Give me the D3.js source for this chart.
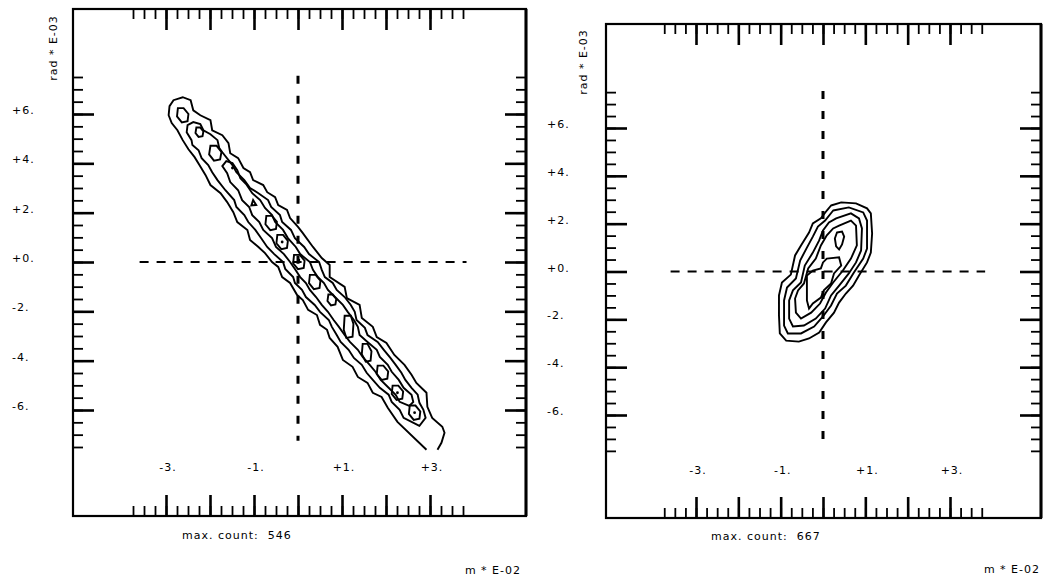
<!DOCTYPE html>
<html>
<head>
<meta charset="utf-8">
<script src="https://cdn.jsdelivr.net/npm/d3@7"></script>
<style>
  body { margin: 0; background: #fff; }
  text { font-family: "DejaVu Sans", sans-serif; font-size: 11px; fill: #000; letter-spacing: 1px; white-space: pre; }
</style>
</head>
<body>
<svg id="chart" width="1047" height="584"></svg>
<script>
// tick values and labels (m * E-02 on x, rad * E-03 on y)
const xMajor = [-3, -2, -1, 0, 1, 2, 3];
const xLabelValues = [-3, -1, 1, 3];
const xLabelText = ["-3.", "-1.", "+1.", "+3."];
const yMajor = [6, 4, 2, 0, -2, -4, -6];
const yLabelText = ["+6.", "+4.", "+2.", "+0.", "-2.", "-4.", "-6."];
const xMinorStep = 0.25, xMinorLimit = 3.75;
const yMinorStep = 0.5, yMinorLimit = 7.5;

// zero cross lines (extent in data units)
const crossX = [-3.6, 3.83];
const crossY = [7.55, -7.25];

const maxCounts = [546, 667];

// ---- left histogram: contour lines, [x, y] in axis units ----
// outermost level, open at the lower edge of the histogram
const leftLevel1 = [
  [2.92,-7.61],[2.26,-6.48],[2.04,-5.91],[1.90,-5.47],[1.70,-5.30],[1.58,-4.90],[1.36,-4.66],[1.24,-4.25],
  [1.02,-3.97],[0.90,-3.44],[0.72,-3.08],[0.66,-2.75],[0.50,-2.55],[0.43,-2.15],[0.23,-1.94],[0.11,-1.54],
  [-0.02,-1.34],[-0.18,-0.85],[-0.36,-0.61],[-0.45,-0.20],[-0.59,0.00],[-0.75,0.36],[-0.90,0.61],[-1.09,0.89],
  [-1.15,1.30],[-1.38,1.62],[-1.47,2.02],[-1.61,2.43],[-1.76,2.79],[-1.99,3.12],[-2.10,3.52],[-2.24,3.93],
  [-2.35,4.25],[-2.49,4.57],[-2.62,4.94],[-2.74,5.34],[-2.87,5.63],[-2.94,5.95],[-2.92,6.32],[-2.83,6.56],
  [-2.62,6.68],[-2.44,6.56],[-2.38,6.15],[-2.22,5.95],[-1.99,5.75],[-1.95,5.34],[-1.72,5.14],[-1.58,4.82],
  [-1.54,4.41],[-1.36,4.21],[-1.24,3.81],[-1.09,3.64],[-1.02,3.32],[-0.79,3.12],[-0.70,2.83],[-0.52,2.63],
  [-0.45,2.31],[-0.25,2.11],[-0.18,1.78],[0.00,1.42],[0.11,1.17],[0.34,0.61],[0.54,0.16],[0.72,-0.12],
  [0.72,-0.61],[1.06,-1.01],[1.11,-1.46],[1.40,-1.74],[1.45,-2.27],[1.70,-2.63],[1.79,-3.04],[2.01,-3.28],
  [2.19,-3.77],[2.42,-4.17],[2.58,-4.57],[2.69,-4.90],[2.92,-5.30],[2.94,-5.87],[3.05,-6.32],[3.28,-6.68],
  [3.33,-6.92],[3.26,-7.33],[3.17,-7.61]
];
const leftLevel2 = [
  [2.76,-6.64],[2.40,-6.32],[2.31,-5.99],[2.13,-5.67],[2.06,-5.38],[1.86,-5.10],[1.70,-4.78],[1.56,-4.49],
  [1.45,-4.17],[1.27,-3.89],[1.15,-3.56],[0.97,-3.24],[0.88,-2.96],[0.77,-2.63],[0.70,-2.35],[0.50,-2.02],
  [0.38,-1.74],[0.18,-1.42],[0.09,-1.13],[-0.07,-0.85],[-0.11,-0.61],[-0.29,-0.28],[-0.34,0.00],[-0.54,0.32],
  [-0.70,0.61],[-0.84,0.97],[-0.97,1.30],[-1.13,1.62],[-1.22,1.90],[-1.40,2.23],[-1.45,2.51],[-1.65,2.91],
  [-1.83,3.32],[-1.95,3.64],[-2.04,3.93],[-2.19,4.21],[-2.26,4.53],[-2.40,4.74],[-2.42,4.94],[-2.53,5.26],
  [-2.51,5.55],[-2.38,5.67],[-2.22,5.59],[-2.15,5.34],[-1.99,5.18],[-1.83,4.94],[-1.79,4.62],[-1.72,4.45],
  [-1.49,3.93],[-1.40,3.64],[-1.22,3.32],[-1.09,3.00],[-0.90,2.79],[-0.68,2.51],[-0.61,2.23],[-0.41,1.90],
  [-0.36,1.62],[-0.16,1.30],[-0.07,0.97],[0.14,0.61],[0.25,0.32],[0.48,0.00],[0.54,-0.32],[0.61,-0.61],
  [0.79,-0.85],[0.88,-1.13],[1.06,-1.42],[1.20,-1.74],[1.29,-2.02],[1.33,-2.35],[1.52,-2.67],[1.58,-2.96],
  [1.81,-3.24],[1.95,-3.56],[2.10,-3.89],[2.22,-4.17],[2.35,-4.49],[2.44,-4.78],[2.58,-5.10],[2.72,-5.38],
  [2.76,-5.71],[2.85,-5.99],[2.90,-6.32]
];
const leftLevel3 = [
  [2.53,-5.83],[2.31,-5.67],[2.22,-5.38],[2.06,-5.10],[1.88,-4.78],[1.76,-4.45],[1.63,-4.17],[1.47,-3.85],
  [1.36,-3.56],[1.18,-3.24],[1.06,-2.96],[0.93,-2.63],[0.81,-2.35],[0.68,-2.02],[0.54,-1.74],[0.41,-1.42],
  [0.27,-1.13],[0.18,-0.85],[0.05,-0.61],[-0.07,-0.28],[-0.18,0.00],[-0.32,0.32],[-0.50,0.61],[-0.59,0.97],
  [-0.79,1.30],[-0.88,1.62],[-1.04,1.90],[-1.11,2.23],[-1.27,2.51],[-1.36,2.91],[-1.54,3.24],[-1.61,3.60],
  [-1.72,3.89],[-1.63,4.09],[-1.49,4.01],[-1.38,3.72],[-1.31,3.40],[-1.18,3.16],[-1.04,2.79],[-0.86,2.51],
  [-0.75,2.19],[-0.59,1.90],[-0.52,1.62],[-0.34,1.30],[-0.23,0.97],[-0.05,0.61],[0.05,0.32],[0.27,0.00],
  [0.34,-0.32],[0.45,-0.61],[0.59,-0.85],[0.68,-1.13],[0.84,-1.42],[1.02,-1.74],[1.13,-2.02],[1.27,-2.35],
  [1.36,-2.63],[1.40,-2.96],[1.58,-3.24],[1.79,-3.56],[1.86,-3.85],[2.04,-4.17],[2.13,-4.45],[2.29,-4.78],
  [2.40,-5.10],[2.58,-5.38],[2.62,-5.67]
];
// small closed peaks along the ridge
const leftPeaks = [
  [[-2.73,6.24],[-2.60,6.24],[-2.49,6.00],[-2.51,5.71],[-2.64,5.66],[-2.75,5.90]],
  [[-2.31,5.45],[-2.22,5.45],[-2.15,5.29],[-2.17,5.10],[-2.26,5.07],[-2.33,5.23]],
  [[-1.99,4.71],[-1.85,4.71],[-1.74,4.46],[-1.77,4.16],[-1.91,4.11],[-2.02,4.36]],
  [[-1.02,2.51],[-0.95,2.31],[-1.06,2.29]],
  [[-0.72,1.87],[-0.59,1.87],[-0.48,1.63],[-0.50,1.34],[-0.63,1.29],[-0.74,1.53]],
  [[-0.47,1.10],[-0.34,1.10],[-0.23,0.86],[-0.25,0.57],[-0.38,0.52],[-0.49,0.76]],
  [[-0.09,0.29],[0.04,0.29],[0.15,0.05],[0.13,-0.24],[0.00,-0.29],[-0.11,-0.05]],
  [[0.27,-0.52],[0.40,-0.52],[0.51,-0.76],[0.49,-1.05],[0.36,-1.10],[0.25,-0.86]],
  [[0.69,-1.32],[0.79,-1.32],[0.87,-1.50],[0.85,-1.72],[0.75,-1.76],[0.67,-1.58]],
  [[1.06,-2.18],[1.20,-2.18],[1.26,-2.51],[1.24,-3.03],[1.10,-3.08],[1.04,-2.75]],
  [[1.47,-3.32],[1.58,-3.32],[1.67,-3.62],[1.65,-4.00],[1.54,-4.04],[1.45,-3.74]],
  [[1.81,-4.20],[1.94,-4.20],[2.05,-4.44],[2.03,-4.73],[1.90,-4.78],[1.79,-4.54]],
  [[2.15,-5.01],[2.28,-5.01],[2.39,-5.25],[2.37,-5.54],[2.24,-5.59],[2.13,-5.35]],
  [[2.54,-5.82],[2.67,-5.82],[2.78,-6.06],[2.76,-6.35],[2.63,-6.40],[2.52,-6.16]]
];
const leftDots = [[-1.49,3.81],[-0.36,0.81],[0.02,0.08],[2.26,-5.30],[2.65,-6.11]];

// ---- right histogram ----
const rightLevel1 = [
  [0.19,2.76],[0.43,2.89],[0.78,2.85],[1.04,2.64],[1.13,2.43],[1.16,1.59],[1.13,0.79],[1.04,0.38],
  [0.85,-0.17],[0.71,-0.59],[0.54,-0.92],[0.38,-1.30],[0.26,-1.72],[0.07,-2.13],[-0.09,-2.55],[-0.33,-2.80],
  [-0.57,-2.93],[-0.87,-2.89],[-1.02,-2.59],[-1.04,-1.84],[-1.04,-1.00],[-0.97,-0.46],[-0.76,-0.13],[-0.66,0.67],
  [-0.52,1.09],[-0.33,1.63],[-0.24,2.01],[-0.05,2.22],[0.09,2.55]
];
const rightLevel2 = [
  [0.24,2.55],[0.61,2.68],[0.95,2.47],[1.04,2.13],[1.04,0.96],[0.95,0.54],[0.73,-0.04],[0.54,-0.59],
  [0.33,-0.92],[0.19,-1.42],[0.00,-1.88],[-0.21,-2.30],[-0.52,-2.59],[-0.83,-2.59],[-0.92,-2.26],[-0.92,-1.21],
  [-0.85,-0.67],[-0.64,-0.29],[-0.54,0.46],[-0.38,1.00],[-0.24,1.46],[-0.12,1.88],[0.05,2.13]
];
const rightLevel3 = [
  [0.31,2.22],[0.66,2.43],[0.85,2.22],[0.92,1.80],[0.90,0.88],[0.78,0.38],[0.61,-0.08],[0.38,-0.59],
  [0.19,-1.00],[0.05,-1.55],[-0.17,-1.97],[-0.45,-2.26],[-0.71,-2.30],[-0.80,-1.97],[-0.80,-1.21],[-0.71,-0.79],
  [-0.52,-0.46],[-0.43,0.25],[-0.24,0.79],[-0.09,1.30],[0.00,1.72],[0.14,2.05]
];
const rightLevel4 = [
  [0.38,1.92],[0.66,2.13],[0.78,1.92],[0.80,1.09],[0.66,0.54],[0.47,0.04],[0.24,-0.46],[0.07,-0.88],
  [-0.07,-1.34],[-0.28,-1.72],[-0.52,-1.97],[-0.64,-1.72],[-0.66,-1.13],[-0.59,-0.79],[-0.45,-0.50],[-0.35,0.13],
  [-0.17,0.54],[-0.05,1.09],[0.09,1.51],[0.24,1.80]
];
const rightLevel5 = [
  [0.09,0.54],[0.38,0.59],[0.43,0.25],[0.26,-0.08],[0.19,-0.50],[0.02,-0.79],[-0.05,-1.09],[-0.24,-1.34],
  [-0.33,-1.55],[-0.38,-1.21],[-0.38,-0.17],[-0.24,0.04],[-0.05,0.13],[0.00,0.38]
];
const rightPeak = [[0.33,1.63],[0.45,1.67],[0.50,1.46],[0.45,1.13],[0.38,0.92],[0.31,1.05],[0.28,1.38]];

const panels = [
  { frame: [73, 9, 526, 516], xr: [166, 430], yr: [114, 410],
    yLabelX: 12, xLabelY: 471, titleY: [57, 48], countPos: [182, 539], unitPos: [521, 574],
    open: [leftLevel1], closed: [leftLevel2, leftLevel3].concat(leftPeaks), dots: leftDots, maxCount: maxCounts[0] },
  { frame: [606, 24, 1041, 518], xr: [696, 950], yr: [128, 415],
    yLabelX: 547, xLabelY: 474, titleY: [587, 62], countPos: [711, 540], unitPos: [1040, 573],
    open: [], closed: [rightLevel1, rightLevel2, rightLevel3, rightLevel4, rightLevel5, rightPeak], dots: [], maxCount: maxCounts[1] }
];

const svg = d3.select("#chart");
const xMinor = d3.range(-xMinorLimit, xMinorLimit + 1e-9, xMinorStep);
const yMinor = d3.range(-yMinorLimit, yMinorLimit + 1e-9, yMinorStep);

panels.forEach(p => {
  const [x0, y0, x1, y1] = p.frame;
  const x = d3.scaleLinear().domain([-3, 3]).range(p.xr);
  const y = d3.scaleLinear().domain([6, -6]).range(p.yr);
  const g = svg.append("g");

  // frame (right edge drawn a bit heavier, like the plotter output)
  g.append("rect")
    .attr("x", x0).attr("y", y0)
    .attr("width", x1 - x0).attr("height", y1 - y0)
    .attr("fill", "none").attr("stroke", "#000").attr("stroke-width", 2.2);
  g.append("line")
    .attr("x1", x1).attr("x2", x1).attr("y1", y0).attr("y2", y1)
    .attr("stroke", "#000").attr("stroke-width", 3);

  // ticks on all four sides: minor then major
  const sides = [
    { axis: d3.axisBottom(x), at: `translate(0,${y0})`, minor: xMinor, major: xMajor },
    { axis: d3.axisTop(x), at: `translate(0,${y1})`, minor: xMinor, major: xMajor },
    { axis: d3.axisRight(y), at: `translate(${x0},0)`, minor: yMinor, major: yMajor },
    { axis: d3.axisLeft(y), at: `translate(${x1},0)`, minor: yMinor, major: yMajor }
  ];
  sides.forEach(s => {
    [[s.minor, 10, 1.8], [s.major, 21, 2.6]].forEach(([vals, len, w]) => {
      const a = g.append("g")
        .attr("transform", s.at)
        .call(s.axis.tickValues(vals).tickSize(len).tickFormat(""));
      a.select(".domain").remove();
      a.selectAll("line").attr("stroke", "#000").attr("stroke-width", w);
    });
  });

  // tick labels
  g.selectAll(".ylab").data(yMajor).enter().append("text")
    .attr("x", p.yLabelX).attr("y", d => y(d))
    .text((d, i) => yLabelText[i]);
  g.selectAll(".xlab").data(xLabelValues).enter().append("text")
    .attr("x", d => x(d) + 2).attr("y", p.xLabelY)
    .attr("text-anchor", "middle")
    .text((d, i) => xLabelText[i]);

  // axis titles
  g.append("text")
    .attr("transform", `translate(${p.titleY[0]},${p.titleY[1]}) rotate(-90)`)
    .attr("text-anchor", "middle")
    .text("rad * E-03");
  g.append("text")
    .attr("x", p.unitPos[0]).attr("y", p.unitPos[1])
    .attr("text-anchor", "end")
    .text("m * E-02");
  g.append("text")
    .attr("x", p.countPos[0]).attr("y", p.countPos[1])
    .text("max. count:  " + p.maxCount);

  // zero lines
  g.append("line")
    .attr("x1", x(crossX[0])).attr("x2", x(crossX[1]))
    .attr("y1", y(0)).attr("y2", y(0))
    .attr("stroke", "#000").attr("stroke-width", 2)
    .attr("stroke-dasharray", "9,8");
  g.append("line")
    .attr("x1", x(0)).attr("x2", x(0))
    .attr("y1", y(crossY[0])).attr("y2", y(crossY[1]))
    .attr("stroke", "#000").attr("stroke-width", 3)
    .attr("stroke-dasharray", "8,12");

  // contours
  const line = d3.line().x(d => x(d[0])).y(d => y(d[1]));
  const closedLine = d3.line().x(d => x(d[0])).y(d => y(d[1])).curve(d3.curveLinearClosed);
  g.selectAll(".open").data(p.open).enter().append("path")
    .attr("d", line)
    .attr("fill", "none").attr("stroke", "#000").attr("stroke-width", 1.9);
  g.selectAll(".closed").data(p.closed).enter().append("path")
    .attr("d", closedLine)
    .attr("fill", "none").attr("stroke", "#000").attr("stroke-width", 1.9);
  g.selectAll(".dot").data(p.dots).enter().append("circle")
    .attr("cx", d => x(d[0])).attr("cy", d => y(d[1]))
    .attr("r", 1.4).attr("fill", "#000");
});
</script>
</body>
</html>
